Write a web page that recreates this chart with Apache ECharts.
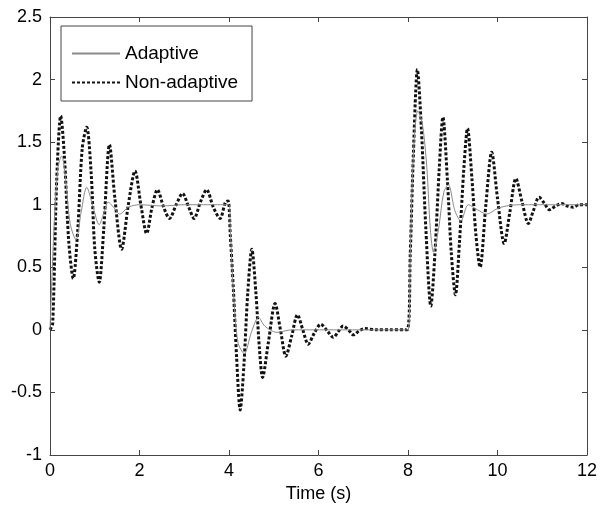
<!DOCTYPE html>
<html>
<head>
<meta charset="utf-8">
<script src="https://cdn.jsdelivr.net/npm/echarts@6/dist/echarts.min.js"></script>
<style>html,body{margin:0;padding:0;background:#fff}#c{width:603px;height:511px}</style>
</head>
<body>
<div id="c"></div>
<script>
const xTicks = [0, 2, 4, 6, 8, 10, 12];
const yTicks = [-1, -0.5, 0, 0.5, 1, 1.5, 2, 2.5];

const nonAdaptiveTime = [0,0.06,0.15,0.24,0.32,0.42,0.52,0.62,0.72,0.82,0.92,1.0,1.1,1.2,1.33,1.45,1.6,1.75,1.9,2.03,2.16,2.28,2.4,2.54,2.67,2.82,2.96,3.1,3.22,3.36,3.5,3.65,3.8,3.92,3.98,4.03,4.1,4.17,4.25,4.33,4.42,4.51,4.6,4.68,4.75,4.88,5.03,5.15,5.27,5.4,5.53,5.65,5.77,5.9,6.05,6.2,6.33,6.45,6.55,6.67,6.78,6.9,7.03,7.3,7.6,7.98,8.05,8.12,8.21,8.3,8.4,8.51,8.6,8.7,8.78,8.88,8.97,9.06,9.15,9.25,9.33,9.43,9.52,9.61,9.74,9.87,10.0,10.15,10.28,10.41,10.55,10.69,10.8,10.93,11.05,11.16,11.3,11.43,11.56,11.69,11.82,12];
const nonAdaptiveValue = [0,0.05,1.2,1.71,1.4,0.7,0.41,0.8,1.45,1.62,1.25,0.65,0.38,0.8,1.48,1.05,0.645,1.0,1.27,1.0,0.77,0.98,1.12,0.98,0.89,1.0,1.09,0.98,0.89,1.02,1.12,0.98,0.89,1.02,1.03,0.75,0.31,-0.22,-0.64,-0.3,0.3,0.645,0.3,-0.15,-0.38,-0.1,0.21,0.0,-0.21,-0.05,0.12,0.0,-0.115,-0.03,0.045,-0.01,-0.06,-0.01,0.03,0.0,-0.04,-0.01,0.01,0.0,0.0,0.0,0.6,1.4,2.08,1.6,0.8,0.19,0.6,1.3,1.70,1.2,0.6,0.28,0.7,1.3,1.61,1.2,0.75,0.50,1.0,1.42,1.05,0.69,0.95,1.21,1.02,0.85,0.95,1.06,1.01,0.96,0.99,1.01,0.99,0.98,1.0,1.0];

const adaptiveTime = [0,0.1,0.18,0.26,0.35,0.45,0.58,0.7,0.82,0.95,1.1,1.2,1.3,1.42,1.56,1.75,2.0,2.5,3.0,4.0,4.03,4.1,4.2,4.34,4.5,4.66,4.8,5.07,5.4,8.0,8.05,8.12,8.22,8.32,8.42,8.5,8.57,8.68,8.8,8.9,9.05,9.18,9.35,9.55,9.76,10.0,10.2,10.5,12];
const adaptiveValue = [0,0.9,1.3,1.39,1.2,0.85,0.72,0.95,1.14,1.0,0.84,0.93,1.02,0.98,0.925,0.98,1.0,0.99,1.0,1.0,0.8,0.3,-0.1,-0.19,-0.02,0.1,0.03,-0.02,0.0,0.0,0.6,1.4,1.75,1.65,1.3,0.8,0.62,0.8,1.1,1.16,0.95,0.87,1.0,0.96,0.925,0.97,0.99,1.0,1.0];

const seriesNames = ['Adaptive', 'Non-adaptive'];
const zip = (a, b) => a.map((t, i) => [t, b[i]]);

const font = 'Liberation Sans, Arial, sans-serif';
const chart = echarts.init(document.getElementById('c'), null, {renderer: 'canvas'});
const frame = {show: true, onZero: false, lineStyle: {color: '#444', width: 1}};
const tick = {inside: true, length: 5, lineStyle: {color: '#444'}};
const baseX = {type: 'value', min: xTicks[0], max: xTicks[xTicks.length-1], interval: 2, splitLine: {show: false}, axisLine: frame, axisTick: tick};
const baseY = {type: 'value', min: yTicks[0], max: yTicks[yTicks.length-1], interval: 0.5, splitLine: {show: false}, axisLine: frame, axisTick: tick};
chart.setOption({
  animation: false,
  backgroundColor: '#fff',
  grid: {left: 50, right: 16, top: 17, bottom: 56, containLabel: false},
  xAxis: [
    Object.assign({}, baseX, {position: 'bottom', name: 'Time (s)', nameLocation: 'middle', nameGap: 30,
      nameTextStyle: {fontFamily: font, fontSize: 18, color: '#000'},
      axisLabel: {fontFamily: font, fontSize: 18, color: '#000', margin: 7}}),
    Object.assign({}, baseX, {position: 'top', axisLabel: {show: false}})
  ],
  yAxis: [
    Object.assign({}, baseY, {position: 'left', axisLabel: {fontFamily: font, fontSize: 18, color: '#000', margin: 8}}),
    Object.assign({}, baseY, {position: 'right', axisLabel: {show: false}})
  ],
  legend: {
    orient: 'vertical', left: 61, top: 26,
    padding: [18, 14, 9, 10], itemGap: 10, itemWidth: 48, itemHeight: 20,
    borderColor: '#444', borderWidth: 1, backgroundColor: '#fff',
    itemStyle: {opacity: 0},
    textStyle: {fontFamily: font, fontSize: 19, color: '#000'},
    data: seriesNames
  },
  series: [
    {name: seriesNames[0], type: 'line', data: zip(adaptiveTime, adaptiveValue), symbol: 'none', smooth: 0.3,
     lineStyle: {color: '#8a8a8a', width: 1}, itemStyle: {color: '#8a8a8a'}, z: 3},
    {name: seriesNames[1], type: 'line', data: zip(nonAdaptiveTime, nonAdaptiveValue), symbol: 'none', smooth: 0.3,
     lineStyle: {color: '#111', width: 3, type: [3, 2]}, itemStyle: {color: '#111'}, z: 2}
  ]
});
</script>
</body>
</html>
